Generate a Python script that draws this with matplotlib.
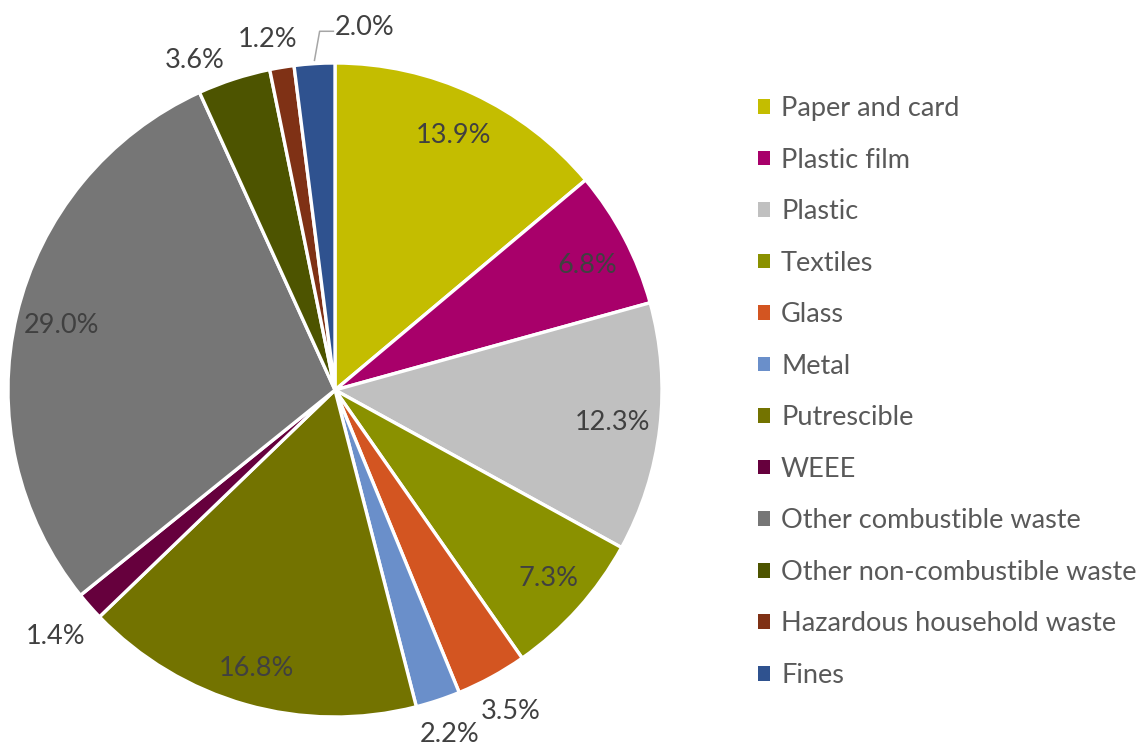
import numpy as np
import matplotlib
matplotlib.use("Agg")
import matplotlib.pyplot as plt
from matplotlib.patches import Patch

# --- Composición de residuos (%) ---
categorias = ["Paper and card", "Plastic film", "Plastic", "Textiles", "Glass",
              "Metal", "Putrescible", "WEEE", "Other combustible waste",
              "Other non-combustible waste", "Hazardous household waste", "Fines"]
porcentajes = [13.9, 6.8, 12.3, 7.3, 3.5, 2.2, 16.8, 1.4, 29.0, 3.6, 1.2, 2.0]
colores = ["#C4BD00", "#A8006A", "#C0C0C0", "#8A9100", "#D35521", "#6A8FCA",
           "#737300", "#66003D", "#767676", "#4D5400", "#7F3115", "#2F528F"]

plt.rcParams["font.family"] = ["Lato", "DejaVu Sans"]

W, H = 1145, 749
fig = plt.figure(figsize=(W / 100, H / 100), dpi=100)

# pastel centrado en (335, 390) px con radio 327 px
cx, cy, r = 335, 390, 327
ax = fig.add_axes([(cx - r) / W, (H - cy - r) / H, 2 * r / W, 2 * r / H])

wedges, _ = ax.pie(porcentajes, colors=colores, startangle=90, counterclock=False,
                   wedgeprops=dict(edgecolor="white", linewidth=2.4))
ax.set_xlim(-1, 1)
ax.set_ylim(-1, 1)
ax.set_aspect("equal")

# etiquetas: dentro para porciones grandes, fuera para las pequeñas
radio = {0: 0.86, 1: 0.86, 2: 0.855, 3: 0.87, 6: 0.885, 8: 0.86,
         5: 1.11, 7: 1.14, 9: 1.095, 10: 1.09}
giro = {1: -1.5, 3: 0.5, 9: 5, 10: 1.5}
fs = 19.5
for i, (w, v) in enumerate(zip(wedges, porcentajes)):
    ang = (w.theta1 + w.theta2) / 2 + giro.get(i, 0)
    txt = f"{v:.1f}%"
    if i == 11:
        # Fines: etiqueta desplazada con línea guía
        a = np.deg2rad(ang)
        x0, y0 = 1.0 * np.cos(a), 1.0 * np.sin(a)
        ax.plot([x0, -0.047, -0.005], [y0 + 0.01, 1.097, 1.097],
                color="#A6A6A6", lw=1.1, clip_on=False)
        ax.text(0.0, 1.11, txt, ha="left", va="center", fontsize=fs,
                color="#404040")
        continue
    rr = radio.get(i, 1.12)
    a = np.deg2rad(ang)
    ax.text(rr * np.cos(a), rr * np.sin(a), txt, ha="center", va="center",
            fontsize=fs, color="#404040")

# leyenda a la derecha
handles = [Patch(facecolor=c, edgecolor="none") for c in colores]
fig.legend(handles, categorias, loc="upper left",
           bbox_to_anchor=(758 / W, 1 - 96 / H), frameon=False,
           fontsize=fs, labelcolor="#595959", handlelength=0.45,
           handleheight=0.45, handletextpad=0.4, labelspacing=0.98,
           borderpad=0, borderaxespad=0)

fig.savefig("out.png", dpi=100)
